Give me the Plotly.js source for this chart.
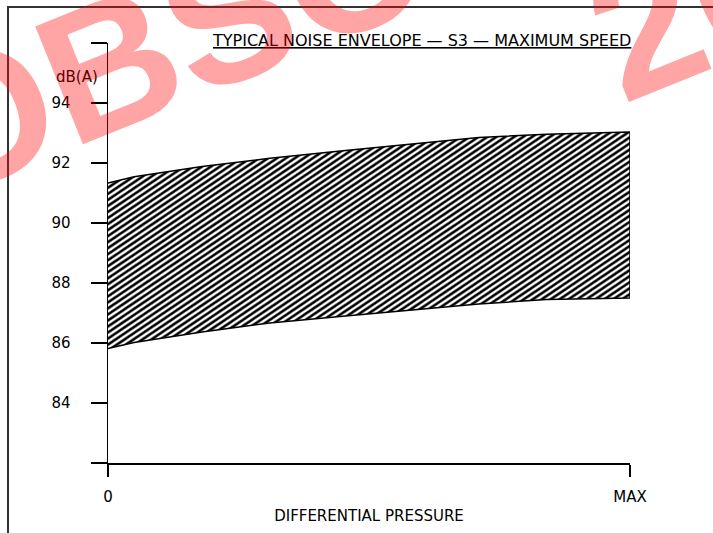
<!DOCTYPE html>
<html>
<head>
<meta charset="utf-8">
<script src="https://cdn.plot.ly/plotly-3.0.1.min.js"></script>
<style>
html,body{margin:0;padding:0;background:#fff;}
#chart{width:713px;height:533px;}
</style>
</head>
<body>
<div id="chart"></div>
<script>
// Differential pressure (0 .. MAX as 0..100 %)
const pressure = [0, 5, 18, 31, 45, 58, 71, 84, 100];
// Noise envelope, dB(A)
const upperDB = [91.33, 91.54, 91.88, 92.16, 92.41, 92.64, 92.85, 92.96, 93.03];
const lowerDB = [85.82, 86.02, 86.37, 86.67, 86.89, 87.09, 87.30, 87.45, 87.50];

const yTickVals = [82, 84, 86, 88, 90, 92, 94, 96];
const yTickText = ['', '84', '86', '88', '90', '92', '94', ''];
const xTickVals = [0, 100];
const xTickText = ['0', 'MAX'];

const titleText = 'TYPICAL NOISE ENVELOPE — S3 — MAXIMUM SPEED';
const xTitle = 'DIFFERENTIAL PRESSURE';
const yUnit = 'dB(A)';
const stamp1 = 'OBSOLETE';
const stamp2 = '2020';

const bandX = pressure.concat(pressure.slice().reverse());
const bandY = lowerDB.concat(upperDB.slice().reverse());

const FONT = 'DejaVu Sans, sans-serif';
const STAMP_FONT = 'Liberation Sans, Arial, sans-serif';

const data = [{
  type: 'scatter',
  mode: 'lines',
  x: bandX,
  y: bandY,
  fill: 'toself',
  fillcolor: 'white',
  fillpattern: {shape: '/', fgcolor: 'black', bgcolor: 'white', size: 5, solidity: 0.52},
  line: {color: 'black', width: 1.5},
  hoverinfo: 'skip',
  showlegend: false
}];

const W = 713, H = 533, L = 108, R = 83, T = 43, B = 70;
const pw = W - L - R, ph = H - T - B;
const px = v => (v - L) / pw;          // pixel x -> paper x
const py = v => (H - B - v) / ph;      // pixel y -> paper y

const layout = {
  width: W, height: H,
  margin: {l: L, r: R, t: T, b: B, pad: 0},
  paper_bgcolor: 'white',
  plot_bgcolor: 'white',
  font: {family: FONT, size: 15, color: 'black'},
  xaxis: {
    range: [0, 100],
    showgrid: false, zeroline: false,
    showline: true, linecolor: 'black', linewidth: 1.5,
    ticks: 'outside', ticklen: 12, tickwidth: 1.5, tickcolor: 'black',
    tickvals: xTickVals, ticktext: xTickText,
    ticklabelstandoff: 7,
    tickfont: {family: FONT, size: 15},
    title: {text: xTitle, font: {family: FONT, size: 15}, standoff: 6}
  },
  yaxis: {
    range: [82, 96],
    showgrid: false, zeroline: false,
    showline: true, linecolor: 'black', linewidth: 1.5,
    ticks: 'outside', ticklen: 16, tickwidth: 1.5, tickcolor: 'black',
    tickvals: yTickVals, ticktext: yTickText,
    ticklabelstandoff: 17,
    tickfont: {family: FONT, size: 15}
  },
  shapes: [{
    type: 'rect', xref: 'paper', yref: 'paper',
    x0: px(8), x1: px(730), y0: py(550), y1: py(7),
    line: {color: '#333', width: 2}
  }],
  annotations: [
    {text: '<u>' + titleText + '</u>', xref: 'paper', yref: 'paper',
     x: px(633), y: py(40), xanchor: 'right', yanchor: 'middle', showarrow: false,
     font: {family: FONT, size: 16, color: 'black'}},
    {text: yUnit, xref: 'paper', yref: 'paper', x: px(100), y: py(77),
     xanchor: 'right', yanchor: 'middle', showarrow: false,
     font: {family: FONT, size: 15, color: 'black'}},
    {text: '<b>' + stamp1 + '</b>', xref: 'paper', yref: 'paper',
     x: px(386), y: py(-47), xanchor: 'center', yanchor: 'middle',
     textangle: -22, showarrow: false, opacity: 0.35,
     font: {family: STAMP_FONT, size: 185, color: 'red'}},
    {text: '<b>' + stamp2 + '</b>', xref: 'paper', yref: 'paper',
     x: px(790), y: py(-32), xanchor: 'center', yanchor: 'middle',
     textangle: -22, showarrow: false, opacity: 0.35,
     font: {family: STAMP_FONT, size: 185, color: 'red'}}
  ]
};

Plotly.newPlot('chart', data, layout, {staticPlot: true, displayModeBar: false}).then(function (gd) {
  // tilt the hatch to the shallower angle of the reference drawing
  gd.querySelectorAll('pattern').forEach(function (p) {
    p.setAttribute('patternTransform', 'rotate(11)');
  });
});
</script>
</body>
</html>
